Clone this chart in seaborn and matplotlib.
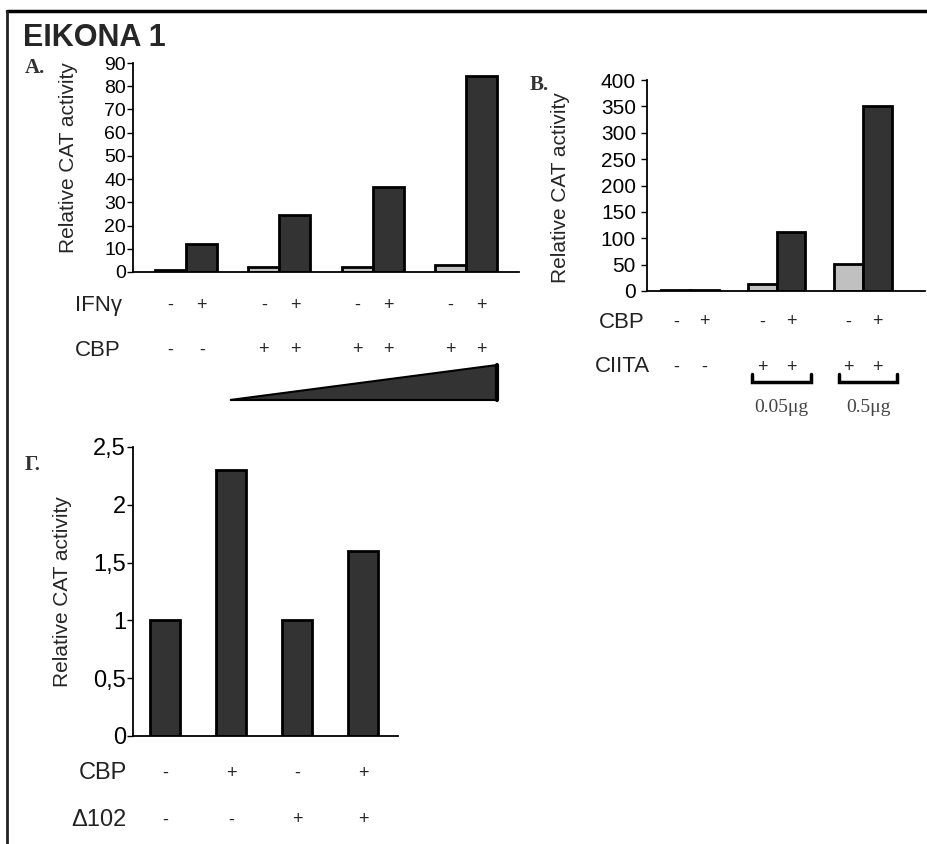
import matplotlib
matplotlib.use('Agg')
import matplotlib.pyplot as plt
import seaborn as sns
import pandas as pd
from matplotlib.transforms import blended_transform_factory
from matplotlib.patches import Polygon
from matplotlib.lines import Line2D

# Panel A data: CAT activity, IFNγ -/+ for increasing CBP
a_groups = ['none', 'low', 'mid', 'high']
a_ifn = ['-', '+']
a_minus = [1, 2, 2, 3]
a_plus = [12, 24.5, 36.5, 84.5]
a_row_ifn = ['-', '+', '-', '+', '-', '+', '-', '+']
a_row_cbp = ['-', '-', '+', '+', '+', '+', '+', '+']

# Panel B data: CBP -/+ with CIITA amounts
b_groups = ['none', '0.05', '0.5']
b_cbp = ['-', '+']
b_minus = [2, 13, 51]
b_plus = [2, 112, 350]
b_row_cbp = ['-', '+', '-', '+', '-', '+']
b_row_ciita = ['-', '-', '+', '+', '+', '+']
b_doses = ['0.05μg', '0.5μg']

# Panel Γ data
g_labels = ['c1', 'c2', 'c3', 'c4']
g_values = [1.0, 2.3, 1.0, 1.6]
g_row_cbp = ['-', '+', '-', '+']
g_row_d102 = ['-', '-', '+', '+']
g_ticks = [0, 0.5, 1, 1.5, 2, 2.5]
g_ticklabels = ['0', '0,5', '1', '1,5', '2', '2,5']

W, H = 927, 844
LIGHT, DARK = '#c0c0c0', '#333333'

sns.set_theme(style='white')
plt.rcParams['font.family'] = ['Liberation Sans', 'DejaVu Sans']

fig = plt.figure(figsize=(W / 100, H / 100), dpi=100)


def px_axes(left, top, right, bottom):
    return fig.add_axes([left / W, 1 - bottom / H, (right - left) / W, (bottom - top) / H])


def fy(py):
    return 1 - py / H


def style_axes(ax, ylim, xlim, tsize, pad):
    ax.set_ylim(*ylim)
    ax.set_xlim(*xlim)
    ax.set_xticks([])
    ax.set_xlabel('')
    sns.despine(ax=ax)
    for s in ['left', 'bottom']:
        ax.spines[s].set_color('black')
        ax.spines[s].set_linewidth(1.3)
    ax.tick_params(axis='y', left=True, length=4, width=1, colors='black',
                   labelsize=tsize, pad=pad)


def sign_row(ax, xs, signs, py, label, lx, size, lsize):
    trans = blended_transform_factory(ax.transData, fig.transFigure)
    for x, s in zip(xs, signs):
        ax.text(x, fy(py), s, transform=trans, ha='center', va='center',
                fontsize=size, clip_on=False)
    fig.text(lx / W, fy(py), label, ha='right', va='center', fontsize=lsize, color='#222222')


# ---- Panel A ----
axA = px_axes(133, 63, 519, 272)
dfA = pd.DataFrame({
    'group': a_groups * 2,
    'ifn': [a_ifn[0]] * 4 + [a_ifn[1]] * 4,
    'value': a_minus + a_plus,
})
wA = 0.667
sns.barplot(data=dfA, x='group', y='value', hue='ifn', order=a_groups, hue_order=a_ifn,
            palette=[LIGHT, DARK], width=wA, edgecolor='black', linewidth=2,
            errorbar=None, legend=False, ax=axA)
style_axes(axA, (0, 90), (-0.57, 3.57), 14, 1)
axA.set_yticks(range(0, 91, 10))
axA.set_ylabel('Relative CAT activity', fontsize=15)
axA.yaxis.set_label_coords(78 / W, fy(158), transform=fig.transFigure)
xsA = [g + d * wA / 4 for g in range(4) for d in (-1, 1)]
sign_row(axA, xsA, a_row_ifn, 305, 'IFNγ', 122, 13, 16)
sign_row(axA, xsA, a_row_cbp, 350, 'CBP', 121, 13, 16)
wedge = Polygon([(230 / W, fy(400)), (497 / W, fy(400)), (497 / W, fy(365))],
                closed=True, transform=fig.transFigure, facecolor=DARK,
                edgecolor='black', linewidth=1.5)
fig.add_artist(wedge)
fig.add_artist(Line2D([497 / W, 497 / W], [fy(400), fy(365)], color='black', lw=3))
fig.text(25 / W, fy(68), 'A.', fontsize=15, fontweight='bold', family='Liberation Serif',
         color='#333333', ha='left', va='center')

# ---- Panel B ----
axB = px_axes(647, 80, 925, 291)
dfB = pd.DataFrame({
    'group': b_groups * 2,
    'cbp': [b_cbp[0]] * 3 + [b_cbp[1]] * 3,
    'value': b_minus + b_plus,
})
wB = 0.67
sns.barplot(data=dfB, x='group', y='value', hue='cbp', order=b_groups, hue_order=b_cbp,
            palette=[LIGHT, DARK], width=wB, edgecolor='black', linewidth=2,
            errorbar=None, legend=False, ax=axB)
style_axes(axB, (0, 400), (-0.5, 2.72), 15, 4)
axB.set_yticks(range(0, 401, 50))
axB.set_ylabel('Relative CAT activity', fontsize=15)
axB.yaxis.set_label_coords(570 / W, fy(188), transform=fig.transFigure)
xsB = [g + d * wB / 4 for g in range(3) for d in (-1, 1)]
sign_row(axB, xsB, b_row_cbp, 322, 'CBP', 645, 13, 16)
sign_row(axB, xsB, b_row_ciita, 367, 'CIITA', 650, 13, 16)
transB = blended_transform_factory(axB.transData, fig.transFigure)
for g, dose in zip([1, 2], b_doses):
    x0, x1 = g - 0.34 + 0.06, g + 0.34 + 0.06
    axB.plot([x0, x0, x1, x1], [fy(374), fy(382), fy(382), fy(374)], color='black',
             lw=2.5, transform=transB, clip_on=False, solid_joinstyle='miter')
    axB.text(g + 0.06, fy(408), dose, transform=transB, ha='center', va='center',
             fontsize=14, family='Liberation Serif', color='#444444', clip_on=False)
fig.text(530 / W, fy(85), 'B.', fontsize=15, fontweight='bold', family='Liberation Serif',
         color='#333333', ha='left', va='center')

# ---- Panel Γ ----
axG = px_axes(133, 447, 398, 736)
dfG = pd.DataFrame({'cond': g_labels, 'value': g_values})
sns.barplot(data=dfG, x='cond', y='value', order=g_labels, color=DARK, width=0.44,
            edgecolor='black', linewidth=2, errorbar=None, ax=axG)
style_axes(axG, (0, 2.5), (-0.485, 3.53), 17, 1)
axG.set_yticks(g_ticks)
axG.set_yticklabels(g_ticklabels)
axG.set_ylabel('Relative CAT activity', fontsize=15)
axG.yaxis.set_label_coords(72 / W, fy(592), transform=fig.transFigure)
xsG = list(range(4))
sign_row(axG, xsG, g_row_cbp, 773, 'CBP', 127, 13, 17)
sign_row(axG, xsG, g_row_d102, 820, 'Δ102', 127, 13, 17)
fig.text(25 / W, fy(465), 'Γ.', fontsize=15, fontweight='bold', family='Liberation Serif',
         color='#333333', ha='left', va='center')

# ---- Title and frame ----
fig.text(23 / W, fy(38), 'EIKONA 1', fontsize=22, fontweight='bold', ha='left', va='center')
fig.add_artist(Line2D([7 / W, 1], [fy(11), fy(11)], color='black', lw=2.5))
fig.add_artist(Line2D([7 / W, 7 / W], [fy(11), 0], color='#222222', lw=2))

fig.savefig('out.png', dpi=100)
